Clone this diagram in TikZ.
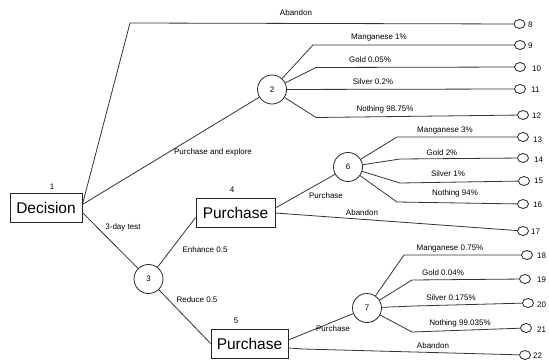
\documentclass[tikz,border=0pt]{standalone}
\usepackage{fontspec}
\setmainfont{Liberation Sans}
\usetikzlibrary{shapes.geometric}
\begin{document}
\begin{tikzpicture}[x=1pt,y=-1pt,
  conn/.style={draw=black!80,line width=0.8pt},
  decbox/.style={draw=black!85,line width=0.8pt,rectangle,inner sep=0pt,font=\fontsize{15.5}{18}\selectfont},
  chance/.style={draw=black!85,line width=0.8pt,circle,minimum size=29pt,inner sep=0pt,font=\fontsize{8}{9}\selectfont},
  term/.style={draw=black!85,line width=0.8pt,ellipse,minimum width=11pt,minimum height=9pt,inner sep=0pt},
  lbl/.style={inner sep=0pt,font=\fontsize{8}{9}\selectfont},
  num/.style={inner sep=0pt,anchor=west,font=\fontsize{8}{9}\selectfont}]
\useasboundingbox (0,0) rectangle (549,361);
% decision nodes
\node[decbox,minimum width=72pt,minimum height=29pt] (dec) at (46,207.5) {Decision};
\node[decbox,minimum width=79pt,minimum height=29pt] (p4) at (235.5,212.5) {Purchase};
\node[decbox,minimum width=77pt,minimum height=29pt] (p5) at (249.5,343.5) {Purchase};
\node[lbl] (n1) at (52,187) {1};
\node[lbl] (n4) at (232,190) {4};
\node[lbl] (n5) at (236,321) {5};
% chance nodes
\node[chance] (c2) at (272,89.5) {2};
\node[chance] (c3) at (148.5,279) {3};
\node[chance] (c6) at (348,167) {6};
\node[chance] (c7) at (367,308) {7};
% terminal nodes
\node[term] (t8) at (519.5,24) {};
\node[term] (t9) at (520,45) {};
\node[term] (t10) at (520,67) {};
\node[term] (t11) at (520,89) {};
\node[term] (t12) at (523,115) {};
\node[term] (t13) at (523,137) {};
\node[term] (t14) at (523,158) {};
\node[term] (t15) at (524,181) {};
\node[term] (t16) at (523,204) {};
\node[term] (t17) at (523,231) {};
\node[term] (t18) at (527,255) {};
\node[term] (t19) at (525,279) {};
\node[term] (t20) at (528,303) {};
\node[term] (t21) at (526,328) {};
\node[term] (t22) at (525,355) {};
\node[num] (l8) at (528,24.5) {8};
\node[num] (l9) at (528,46) {9};
\node[num] (l10) at (532,69) {10};
\node[num] (l11) at (531,90) {11};
\node[num] (l12) at (532,115.5) {12};
\node[num] (l13) at (533,140) {13};
\node[num] (l14) at (534,160) {14};
\node[num] (l15) at (534,181) {15};
\node[num] (l16) at (533,205) {16};
\node[num] (l17) at (531,232) {17};
\node[num] (l18) at (537,256) {18};
\node[num] (l19) at (537,280) {19};
\node[num] (l20) at (537,305) {20};
\node[num] (l21) at (537,330) {21};
\node[num] (l22) at (533,356) {22};
% bend coordinates
\coordinate (a0) at (130,23);
\coordinate (b9) at (313,45);
\coordinate (b10) at (316,67.5);
\coordinate (b12) at (316,117.5);
\coordinate (b13) at (397,137);
\coordinate (b14) at (400,159);
\coordinate (b15) at (400,183);
\coordinate (b16) at (397,202);
\coordinate (b18) at (404,255);
\coordinate (b19) at (412,280);
\coordinate (b20) at (414,306);
\coordinate (b21) at (412,332);
\coordinate (b22) at (303,349);
% connectors
\draw[conn] ([yshift=3pt]dec.east) -- (a0) -- (t8);
\draw[conn] ([yshift=3pt]dec.east) -- (c2);
\draw[conn] ([yshift=-5pt]dec.east) -- (c3);
\draw[conn] (c2) -- (b9) -- (t9);
\draw[conn] (c2) -- (b10) -- (t10);
\draw[conn] (c2) -- (t11);
\draw[conn] (c2) -- (b12) -- (t12);
\draw[conn] (c3) -- ([yshift=-5pt]p4.west);
\draw[conn] (c3) -- (p5.west);
\draw[conn] ([yshift=4.5pt]p4.east) -- (c6);
\draw[conn] ([yshift=-0.5pt]p4.east) -- (t17);
\draw[conn] (c6) -- (b13) -- (t13);
\draw[conn] (c6) -- (b14) -- (t14);
\draw[conn] (c6) -- (b15) -- (t15);
\draw[conn] (c6) -- (b16) -- (t16);
\draw[conn] ([yshift=3.5pt]p5.east) -- (c7);
\draw[conn] ([yshift=-4.5pt]p5.east) -- (b22) -- (t22);
\draw[conn] (c7) -- (b18) -- (t18);
\draw[conn] (c7) -- (b19) -- (t19);
\draw[conn] (c7) -- (b20) -- (t20);
\draw[conn] (c7) -- (b21) -- (t21);
% branch labels
\node[lbl] (la8) at (296,13) {Abandon};
\node[lbl] (lpe) at (213,152) {Purchase and explore};
\node[lbl] (l3d) at (123,227) {3-day test};
\node[lbl] (len) at (205,250) {Enhance 0.5};
\node[lbl] (lre) at (197,300) {Reduce 0.5};
\node[lbl] (lm1) at (379,38) {Manganese 1\%};
\node[lbl] (lg1) at (370,60) {Gold 0.05\%};
\node[lbl] (ls1) at (373,82) {Silver 0.2\%};
\node[lbl] (ln1) at (385,109) {Nothing 98.75\%};
\node[lbl] (lm2) at (445,131) {Manganese 3\%};
\node[lbl] (lg2) at (442,153) {Gold 2\%};
\node[lbl] (ls2) at (448,174) {Silver 1\%};
\node[lbl] (ln2) at (455,193) {Nothing 94\%};
\node[lbl] (lp6) at (326,196) {Purchase};
\node[lbl] (la17) at (362,213) {Abandon};
\node[lbl] (lm3) at (450,249) {Manganese 0.75\%};
\node[lbl] (lg3) at (443,273) {Gold 0.04\%};
\node[lbl] (ls3) at (451,298) {Silver 0.175\%};
\node[lbl] (ln3) at (460,323) {Nothing 99.035\%};
\node[lbl] (lp7) at (333,329) {Purchase};
\node[lbl] (la22) at (433,346) {Abandon};
\end{tikzpicture}
\end{document}
